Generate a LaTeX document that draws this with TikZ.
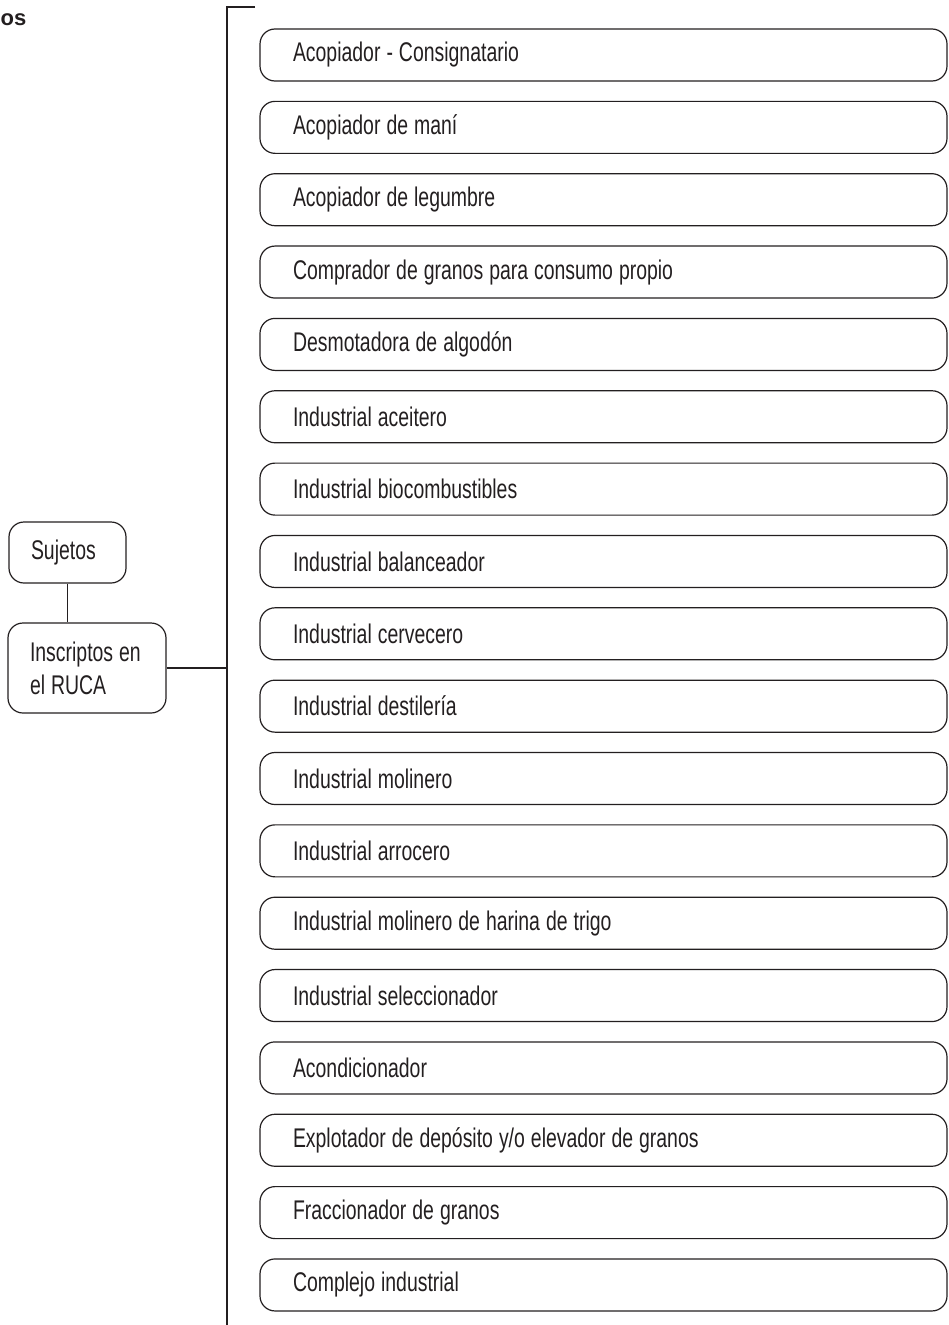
\documentclass[tikz,border=0pt]{standalone}
\usepackage{fontspec}
\setmainfont{Liberation Sans}[FakeStretch=0.72]
\newfontfamily\headfont{Liberation Sans}
\usetikzlibrary{positioning}

\definecolor{ink}{RGB}{35,31,32}

\begin{document}
\begin{tikzpicture}[x=1pt,y=-1pt]

    \tikzstyle{item} = [draw=ink, rectangle, rounded corners=15pt, line width=1.2pt,
    minimum height=52pt, minimum width=687pt, text width=621pt, inner xsep=33pt,
    align=left, text=ink, font=\fontsize{27}{33}\selectfont,
    execute at begin node={\spaceskip=6pt plus 1pt\relax}]

    \tikzstyle{head} = [draw=ink, rectangle, rounded corners=15pt, line width=1.2pt,
    inner xsep=22pt, align=left, text=ink, font=\fontsize{27}{33}\selectfont,
    execute at begin node={\spaceskip=6pt plus 1pt\relax}]

    \useasboundingbox (0,0) rectangle (948,1325);

    % cut-off title at the left edge
    \node [anchor=base west, inner sep=0pt, text=ink, font=\headfont\bfseries\fontsize{22}{26}\selectfont] (title) at (0.5,25) {os};

    \draw
    (67.5,552.5) node [head, minimum width=117pt, minimum height=61pt, text width=73pt] (suj) {Sujetos}
    (87,668) node [head, minimum width=158pt, minimum height=90pt, text width=114pt, inner xsep=22pt] (ruca) {Inscriptos en\\el RUCA}
    ;

    \draw
    (603.5,55) node [item] (a1) {Acopiador - Consignatario}
    (603.5,127.35) node [item] (a2) {Acopiador de maní}
    (603.5,199.7) node [item] (a3) {Acopiador de legumbre}
    (603.5,272.05) node [item] (a4) {Comprador de granos para consumo propio}
    (603.5,344.4) node [item] (a5) {Desmotadora de algodón}
    (603.5,416.75) node [item] (a6) {Industrial aceitero}
    (603.5,489.1) node [item] (a7) {Industrial biocombustibles}
    (603.5,561.45) node [item] (a8) {Industrial balanceador}
    (603.5,633.8) node [item] (a9) {Industrial cervecero}
    (603.5,706.15) node [item] (a10) {Industrial destilería}
    (603.5,778.5) node [item] (a11) {Industrial molinero}
    (603.5,850.85) node [item] (a12) {Industrial arrocero}
    (603.5,923.2) node [item] (a13) {Industrial molinero de harina de trigo}
    (603.5,995.55) node [item] (a14) {Industrial seleccionador}
    (603.5,1067.9) node [item] (a15) {Acondicionador}
    (603.5,1140.25) node [item] (a16) {Explotador de depósito y/o elevador de granos}
    (603.5,1212.6) node [item] (a17) {Fraccionador de granos}
    (603.5,1284.95) node [item] (a18) {Complejo industrial}
    ;

    % bracket
    \coordinate (tick) at (255,7);
    \coordinate (brtop) at (227,7);
    \coordinate (brbot) at (227,1325);

    \draw [ink, line width=1.2pt] (tick) -- (brtop) -- (brbot);
    \draw [ink, line width=1.2pt] (suj.south) -- (suj.south |- ruca.north);
    \draw [ink, line width=1.2pt] (ruca.east) -- (ruca.east -| brtop);
  \end{tikzpicture}
\end{document}
